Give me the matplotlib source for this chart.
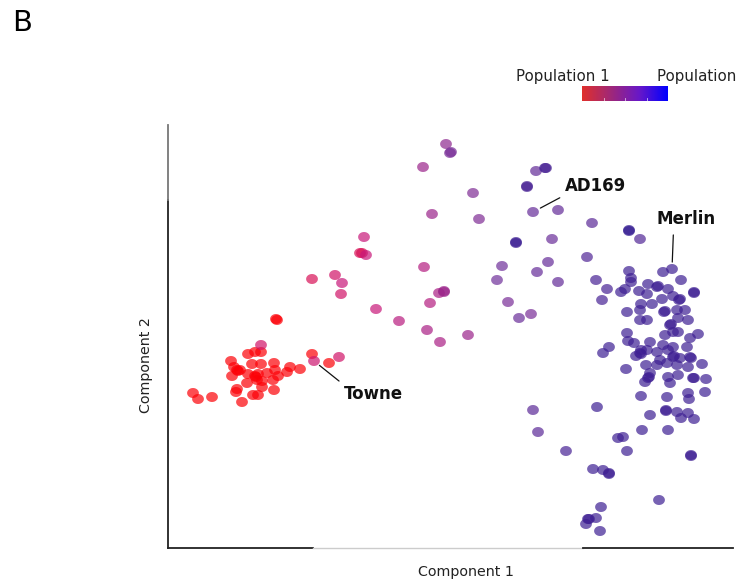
#!/usr/bin/env python3
"""
Panel B: two-component projection of strains, coloured by ancestry
(red = population 1, blue = population 2).
"""

import numpy as np
import matplotlib
matplotlib.use("Agg")
import matplotlib.pyplot as plt
from matplotlib.colors import LinearSegmentedColormap
from matplotlib.path import Path

plt.rcParams["font.family"] = ["DejaVu Sans"]

# --- data (arbitrary component units) ------------------------------------
# population 1 core (pure red)
pop1_c1 = [108, 109, 80, 87, 93, 63, 66, 69, 70, 64, 72, 80, 87, 88, 89, 93,
           106, 107, 99, 110, 119, 122, 132, 105, 94, 106, 69, 68, 79, 85,
           90, 74, 25, 30, 44, 144, 161, 90, 94, 84]
pop1_c2 = [229, 228, 194, 196, 196, 187, 181, 178, 177, 172, 178, 174, 172,
           171, 168, 184, 185, 178, 175, 172, 176, 181, 179, 168, 161, 158,
           159, 156, 165, 153, 153, 146, 155, 149, 151, 194, 185, 174, 167,
           184]
pop1_anc = 0.02

# admixed strains, with their own ancestry fraction
mix_c1 = [93, 146, 171, 278, 282, 283, 255, 305, 264, 311, 196, 192, 194,
          198, 144, 167, 174, 173, 208, 231, 256, 271, 276, 276, 262, 259,
          272, 300, 368, 377, 378, 359, 359, 365, 390, 348, 348, 384, 334,
          329, 369, 380, 390, 340, 351, 363, 424, 461, 461, 472, 419, 428,
          439, 434, 365, 370, 398]
mix_c2 = [203, 187, 191, 404, 395, 396, 381, 355, 334, 329, 311, 295, 295,
          293, 269, 273, 265, 254, 239, 227, 281, 255, 256, 257, 245, 218,
          206, 213, 377, 380, 380, 362, 361, 336, 338, 305, 306, 309, 282,
          268, 276, 286, 266, 246, 230, 234, 325, 318, 317, 309, 291, 268,
          259, 248, 138, 116, 97]
mix_anc = [0.3, 0.32, 0.3, 0.55, 0.62, 0.62, 0.5, 0.6, 0.5, 0.6, 0.35, 0.25,
           0.25, 0.35, 0.25, 0.3, 0.35, 0.3, 0.35, 0.4, 0.42, 0.45, 0.5, 0.5,
           0.42, 0.45, 0.45, 0.5, 0.72, 0.85, 0.85, 0.85, 0.85, 0.7, 0.72,
           0.92, 0.92, 0.68, 0.65, 0.65, 0.7, 0.7, 0.72, 0.62, 0.68, 0.62,
           0.75, 0.95, 0.95, 0.8, 0.8, 0.85, 0.85, 0.85, 0.75, 0.75, 0.85]

# population 2 cluster
pop2_c1 = [461, 463, 463, 457, 453, 471, 480, 489, 490, 495, 504, 513, 526,
           526, 500, 479, 494, 505, 511, 512, 473, 484, 472, 459, 496, 497,
           509, 517, 510, 520, 472, 479, 502, 503, 497, 505, 510, 459, 460,
           466, 482, 495, 505, 522, 530, 519, 441, 435, 473, 472, 473, 468,
           479, 489, 500, 505, 506, 512, 522, 523, 492, 499, 509, 520, 534,
           478, 489, 458, 482, 480, 481, 477, 500, 510, 502, 525, 526, 538,
           473, 499, 520, 521, 537, 429, 482, 498, 498, 509, 513, 520, 526,
           474, 500, 450, 455, 459, 523, 523, 425, 435, 441, 441, 491, 433,
           428, 420, 421, 418, 432]
pop2_c2 = [277, 270, 266, 259, 256, 257, 264, 261, 262, 276, 279, 268, 255,
           256, 259, 254, 249, 252, 248, 249, 244, 244, 238, 236, 236, 237,
           238, 238, 230, 228, 228, 228, 223, 224, 213, 216, 216, 215, 207,
           205, 206, 203, 201, 210, 214, 201, 201, 195, 198, 195, 194, 192,
           198, 196, 198, 191, 192, 190, 191, 190, 188, 185, 183, 181, 184,
           183, 183, 179, 175, 170, 171, 166, 171, 173, 165, 170, 170, 169,
           152, 151, 155, 149, 156, 141, 133, 138, 137, 136, 130, 135, 129,
           118, 118, 110, 111, 97, 93, 92, 79, 78, 74, 75, 48, 41, 30, 29,
           29, 24, 17]
pop2_anc = 0.9

# labelled reference strains: (name, component 1, component 2)
ref_names = ["AD169", "Merlin", "Towne"]
ref_c1 = [365, 504, 146]
ref_c2 = [336, 279, 187]

# --- figure ---------------------------------------------------------------
pts_cmap = LinearSegmentedColormap.from_list(
    "anc", [(0.0, "#ff0000"), (0.35, "#c8187a"), (0.65, "#70309a"),
            (1.0, "#2a1890")])
bar_cmap = LinearSegmentedColormap.from_list(
    "bar", ["#e0302c", "#a02878", "#6818c8", "#0000ff"])

# the original panel is slightly stretched sideways -> oval dots
th = np.linspace(0, 2 * np.pi, 41)
oval = Path(np.column_stack([1.18 * np.cos(th), np.sin(th)]), closed=True)

fig = plt.figure(figsize=(7.42, 5.82), dpi=100)
ax = fig.add_axes([168 / 742, 1 - 548 / 582, 565 / 742, 423 / 582])

kw = dict(cmap=pts_cmap, vmin=0, vmax=1, s=72, alpha=0.7, linewidths=0,
          marker=oval)
ax.scatter(pop1_c1, pop1_c2, c=[pop1_anc] * len(pop1_c1), **kw)
ax.scatter(mix_c1, mix_c2, c=mix_anc, **kw)
ax.scatter(pop2_c1, pop2_c2, c=[pop2_anc] * len(pop2_c1), **kw)

ax.set_xlim(0, 565)
ax.set_ylim(0, 423)
ax.set_xticks([]); ax.set_yticks([])
for s in ax.spines.values():
    s.set_visible(False)

# broken-looking axis lines as in the original panel
ax.plot([0, 0], [0, 348], color="#222222", lw=1.3, clip_on=False)
ax.plot([0, 0], [348, 423], color="#777777", lw=1.3, clip_on=False)
ax.plot([0, 145], [0, 0], color="#222222", lw=1.3, clip_on=False)
ax.plot([145, 415], [0, 0], color="#cccccc", lw=1.0, clip_on=False)
ax.plot([415, 565], [0, 0], color="#222222", lw=1.3, clip_on=False)

ax.set_xlabel("Component 1", fontsize=10.3, color="#222222")
ax.set_ylabel("Component 2", fontsize=10.3, color="#222222")
ax.xaxis.set_label_coords(0.527, -0.041)
ax.yaxis.set_label_coords(-0.026, 0.433)

# annotations
tkw = dict(fontsize=12, fontweight="bold", color="#111111")
ax.annotate(ref_names[0], xy=(ref_c1[0], ref_c2[0]), xytext=(397, 362),
            ha="left", va="center", **tkw,
            arrowprops=dict(arrowstyle="-", lw=0.9, color="#111111",
                            relpos=(0, 0), shrinkA=2, shrinkB=6))
ax.annotate(ref_names[1], xy=(ref_c1[1], ref_c2[1]), xytext=(518, 329),
            ha="center", va="center", **tkw,
            arrowprops=dict(arrowstyle="-", lw=0.9, color="#111111",
                            relpos=(0.29, 0), shrinkA=3, shrinkB=5))
ax.annotate(ref_names[2], xy=(ref_c1[2], ref_c2[2]), xytext=(176, 154),
            ha="left", va="center", **tkw,
            arrowprops=dict(arrowstyle="-", lw=0.9, color="#111111",
                            relpos=(0, 1), shrinkA=2, shrinkB=5))

# colour key
cax = fig.add_axes([582 / 742, 1 - 101 / 582, 86 / 742, 15 / 582])
cax.imshow(np.linspace(0, 1, 256)[None, :], aspect="auto", cmap=bar_cmap,
           extent=(0, 1, 0, 1))
for xv in (0.25, 0.5, 0.75):
    cax.plot([xv, xv], [0, 0.2], color="white", lw=0.6, alpha=0.7)
cax.set_xlim(0, 1); cax.set_ylim(0, 1)
cax.axis("off")
fig.text(563 / 742, 1 - 77 / 582, "Population 1", fontsize=10.8,
         ha="center", va="center", color="#222222")
fig.text(657 / 742, 1 - 77 / 582, "Population 2", fontsize=10.8,
         ha="left", va="center", color="#222222")

fig.text(12 / 742, 1 - 23 / 582, "B", fontsize=21, ha="left", va="center")

fig.savefig("out.png", dpi=100)
